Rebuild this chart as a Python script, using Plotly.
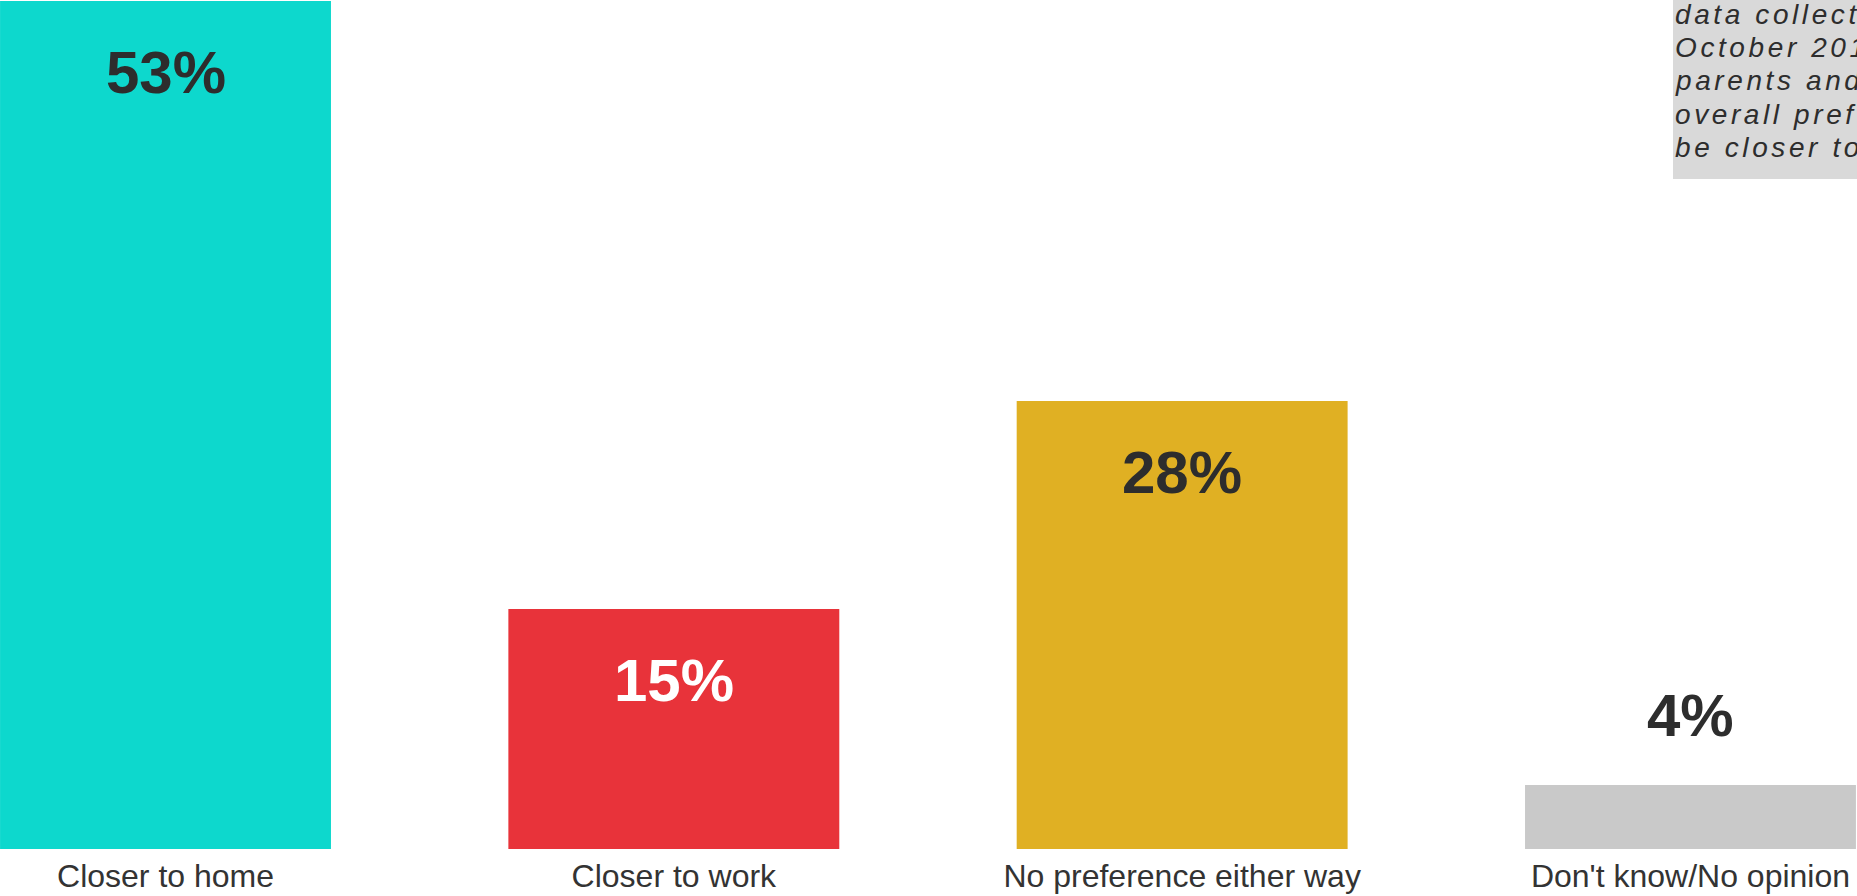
import plotly.graph_objects as go

categories = ["Closer to home", "Closer to work", "No preference either way", "Don't know/No opinion"]
values = [53, 15, 28, 4]
value_labels = ["53%", "15%", "28%", "4%"]
bar_colors = ["#0dd8cd", "#e8333a", "#e0b023", "#c9c9c9"]
label_colors = ["#2d2d2d", "#ffffff", "#2d2d2d", "#2d2d2d"]
label_inside = [True, True, True, False]
note_lines = ["data collected in", "October 2019 from", "parents and carers", "overall preference to", "be closer to home."]

W, H = 1857, 896
B = 47
PH = H - B  # plot height in px

fig = go.Figure()
fig.add_trace(go.Bar(
    x=categories, y=values,
    marker=dict(color=bar_colors, line=dict(width=0)),
    hoverinfo="skip",
))

annotations = []
for cat, v, lab, col, inside in zip(categories, values, value_labels, label_colors, label_inside):
    if inside:
        annotations.append(dict(x=cat, y=v, xref="x", yref="y", text="<b>" + lab + "</b>",
                                showarrow=False, yanchor="top", xanchor="center", yshift=-36,
                                font=dict(family="Liberation Sans, Arial, sans-serif", size=60, color=col)))
    else:
        annotations.append(dict(x=cat, y=v, xref="x", yref="y", text="<b>" + lab + "</b>",
                                showarrow=False, yanchor="bottom", xanchor="center", yshift=34,
                                font=dict(family="Liberation Sans, Arial, sans-serif", size=60, color=col)))

# note box lines (clipped at right edge like the reference)
baselines = [24, 57, 90, 124, 157]
for line, bl in zip(note_lines, baselines):
    mid_px = bl - 0.3465 * 28
    annotations.append(dict(
        x=1675 / W, y=(PH - mid_px) / PH, xref="paper", yref="paper",
        xanchor="left", yanchor="middle", showarrow=False, borderpad=0, borderwidth=0,
        text='<i><span style="letter-spacing:3.6px">' + line + '</span></i>',
        font=dict(family="Liberation Sans, Arial, sans-serif", size=28, color="#2d2d2d"),
        align="left",
    ))

shapes = [dict(type="rect", xref="paper", yref="paper",
               x0=1673 / W, x1=1.05, y0=(PH - 179) / PH, y1=1.2,
               fillcolor="#d9d9d9", line=dict(width=0), layer="below")]

fig.update_layout(
    width=W, height=H,
    margin=dict(l=0, r=0, t=0, b=B, pad=0, autoexpand=False),
    paper_bgcolor="white", plot_bgcolor="white",
    bargap=0.349,
    showlegend=False,
    annotations=annotations,
    shapes=shapes,
    font=dict(family="Liberation Sans, Arial, sans-serif", color="#333333"),
    xaxis=dict(type="category", range=[-0.3256, 3.3276], showgrid=False, showline=False,
               zeroline=False, ticks="", ticklabelstandoff=5, automargin=False,
               tickfont=dict(size=32, color="#333333")),
    yaxis=dict(range=[0, PH / 16], visible=False, showgrid=False, zeroline=False, automargin=False),
)

fig.write_html("out.html", config={"displayModeBar": False},
               post_script="document.body.style.margin='0';document.body.style.overflow='hidden';")
